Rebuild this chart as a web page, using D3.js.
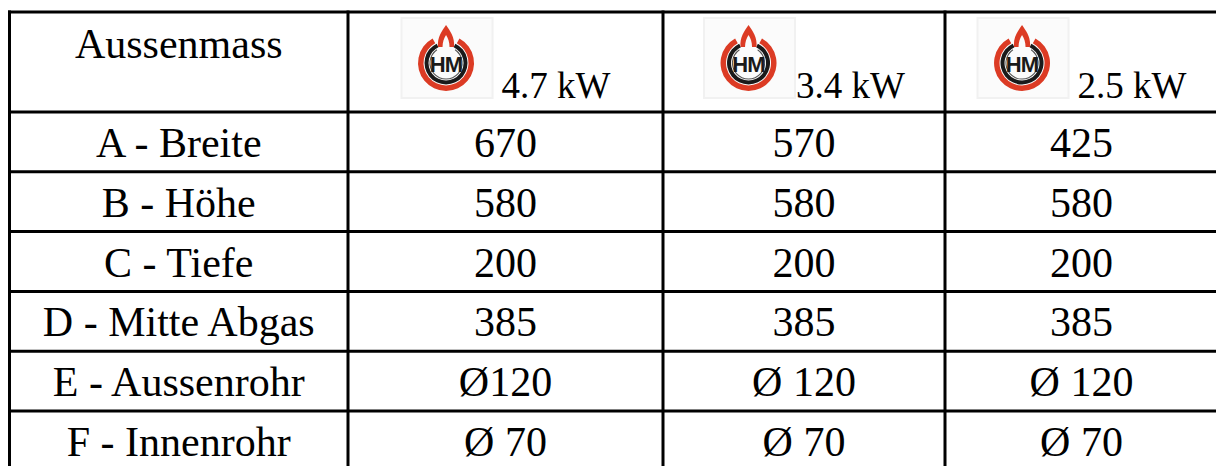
<!DOCTYPE html>
<html>
<head>
<meta charset="utf-8">
<script src="https://cdn.jsdelivr.net/npm/d3@7/dist/d3.min.js"></script>
<style>
  html, body { margin: 0; padding: 0; background: #ffffff; }
  svg { display: block; }
</style>
</head>
<body>
<svg id="chart" width="1216" height="466"></svg>
<script>
// ---- data ----
const headerLabel = "Aussenmass";
const models = ["4.7 kW", "3.4 kW", "2.5 kW"];
const categories = ["A - Breite", "B - Höhe", "C - Tiefe", "D - Mitte Abgas", "E - Aussenrohr", "F - Innenrohr"];
const values47 = ["670", "580", "200", "385", "Ø120", "Ø 70"];
const values34 = ["570", "580", "200", "385", "Ø 120", "Ø 70"];
const values25 = ["425", "580", "200", "385", "Ø 120", "Ø 70"];

// ---- layout ----
const W = 1216, H = 466;
const colEdges = [9.5, 348, 663, 945, 1218];
const headerTop = 12, headerBottom = 112, rowH = 59.8;
const logoGap = [8, 0, 8];
const serif = "'Liberation Serif', 'Times New Roman', Times, serif";

const svg = d3.select("#chart");
svg.append("rect").attr("width", W).attr("height", H).attr("fill", "#fff");

const colKeys = ["label", "m0", "m1", "m2"];
const x = d3.scaleOrdinal().domain(colKeys).range(colEdges.slice(0, 4));
const xEnd = d3.scaleOrdinal().domain(colKeys).range(colEdges.slice(1));
const xc = k => (x(k) + xEnd(k)) / 2;

const y = d3.scaleBand()
  .domain(categories)
  .range([headerBottom, headerBottom + rowH * categories.length])
  .padding(0);

const rows = categories.map((c, i) => ({
  label: c, m0: values47[i], m1: values34[i], m2: values25[i]
}));

// ---- body text ----
const gRows = svg.append("g");
rows.forEach(r => {
  colKeys.forEach(k => {
    gRows.append("text")
      .attr("x", xc(k))
      .attr("y", y(r.label) + y.bandwidth() / 2 + 15)
      .attr("text-anchor", "middle")
      .attr("font-family", serif)
      .attr("font-size", 42)
      .attr("fill", "#000")
      .text(r[k]);
  });
});

// ---- header ----
svg.append("text")
  .attr("x", xc("label"))
  .attr("y", 58)
  .attr("text-anchor", "middle")
  .attr("font-family", serif)
  .attr("font-size", 42)
  .attr("fill", "#000")
  .text(headerLabel);

function drawLogo(g) {
  const w = 93, h = 82, cx = 45.5, cy = 46;
  g.append("rect").attr("width", w).attr("height", h).attr("fill", "#f1f1f1");
  g.append("rect").attr("x", 2).attr("y", 2).attr("width", w - 4).attr("height", h - 4).attr("fill", "#fbfbfb");
  const arc = d3.arc();
  // red outer ring open at top
  g.append("path")
    .attr("transform", `translate(${cx},${cy})`)
    .attr("d", arc({innerRadius: 22.5, outerRadius: 28, startAngle: 0.5, endAngle: 2 * Math.PI - 0.5}))
    .attr("fill", "#dc3b24");
  // black inner ring open at top
  g.append("path")
    .attr("transform", `translate(${cx},${cy})`)
    .attr("d", arc({innerRadius: 17.5, outerRadius: 21.5, startAngle: 0.45, endAngle: 2 * Math.PI - 0.45}))
    .attr("fill", "#1a1a1a");
  // thin inner outline
  g.append("path")
    .attr("transform", `translate(${cx},${cy})`)
    .attr("d", arc({innerRadius: 15.6, outerRadius: 16.6, startAngle: 0.6, endAngle: 2 * Math.PI - 0.6}))
    .attr("fill", "#555");
  // flame
  g.append("path")
    .attr("d", `M${cx},${8} C${cx + 4},${14} ${cx + 9},${20} ${cx + 8},${30} L${cx + 3.5},${30} C${cx + 3.5},${25} ${cx + 2},${21} ${cx},${18} C${cx - 2},${21} ${cx - 3.5},${25} ${cx - 3.5},${30} L${cx - 8},${30} C${cx - 9},${20} ${cx - 4},${14} ${cx},${8} Z`)
    .attr("fill", "#dc3b24");
  g.append("text")
    .attr("x", cx).attr("y", cy + 8.5)
    .attr("text-anchor", "middle")
    .attr("font-family", "'Liberation Sans', Arial, sans-serif")
    .attr("font-weight", "bold")
    .attr("font-size", 22)
    .attr("letter-spacing", -0.8)
    .attr("fill", "#1a1a1a")
    .text("HM");
}

models.forEach((m, i) => {
  const k = colKeys[i + 1];
  const g = svg.append("g");
  const t = g.append("text")
    .attr("font-family", serif)
    .attr("font-size", 37)
    .attr("fill", "#000")
    .text(m);
  const tw = t.node().getComputedTextLength();
  const total = 93 + logoGap[i] + tw;
  const left = xc(k) - total / 2;
  const lg = g.append("g").attr("transform", `translate(${left},17)`);
  drawLogo(lg);
  t.attr("x", left + 93 + logoGap[i]).attr("y", 98);
});

// ---- grid lines ----
const lines = svg.append("g").attr("stroke", "#000").attr("stroke-width", 3);
const bottom = H + 10;
lines.append("line").attr("x1", colEdges[0] - 1.5).attr("x2", W).attr("y1", headerTop).attr("y2", headerTop);
[headerBottom, ...categories.slice(1).map(c => y(c))].forEach(yy => {
  lines.append("line").attr("x1", colEdges[0] - 1.5).attr("x2", W).attr("y1", yy).attr("y2", yy);
});
colEdges.forEach(xx => {
  lines.append("line").attr("x1", xx).attr("x2", xx).attr("y1", headerTop - 1.5).attr("y2", bottom);
});
</script>
</body>
</html>
